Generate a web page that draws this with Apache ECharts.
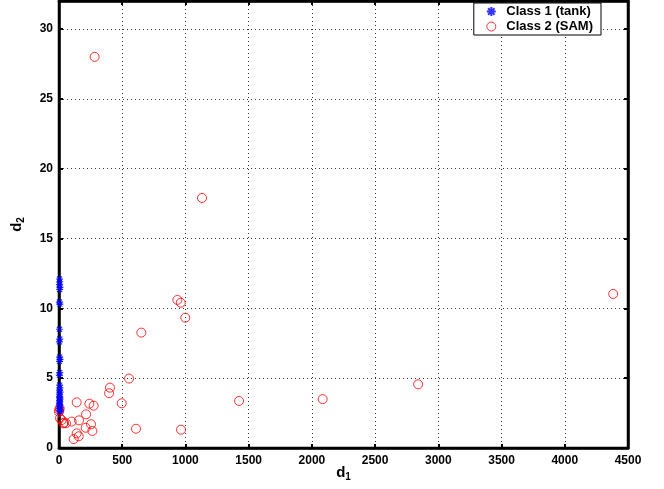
<!DOCTYPE html>
<html>
<head>
<meta charset="utf-8">
<script src="https://cdn.jsdelivr.net/npm/echarts@6/dist/echarts.min.js"></script>
<style>html,body{margin:0;padding:0;background:#fff}#c{width:664px;height:489px}</style>
</head>
<body>
<div id="c"></div>
<script>
const seriesNames = ['Class 1 (tank)', 'Class 2 (SAM)'];
const xTicks = [0, 500, 1000, 1500, 2000, 2500, 3000, 3500, 4000, 4500];
const yTicks = [0, 5, 10, 15, 20, 25, 30];
const tankX = [4, 6, 3, 8, 5, 3, 7, 4, 6, 3, 5, 8, 4, 6, 3, 5, 7, 4, 9, 3, 6, 5, 8, 4, 7, 3, 6, 5, 9, 4, 6, 8];
const tankY = [12.1, 11.9, 11.7, 11.5, 11.35, 10.45, 10.3, 8.5, 7.8, 7.6, 6.5, 6.35, 6.2, 5.4, 5.2, 4.5, 4.3, 4.15, 4.0, 3.85, 3.7, 3.6, 3.5, 3.4, 3.3, 3.2, 3.1, 3.0, 2.9, 2.8, 2.7, 2.6];
const samX = [282, 1131, 4383, 936, 963, 999, 651, 554, 403, 396, 2840, 2085, 1424, 496, 140, 240, 274, 609, 965, 214, 158, 100, 55, 40, 253, 211, 264, 140, 156, 116, 3, 0, 8, 21, 34, 5];
const samY = [28.0, 17.9, 11.03, 10.6, 10.4, 9.33, 8.26, 4.97, 4.32, 3.92, 4.56, 3.5, 3.37, 3.20, 3.27, 3.17, 3.03, 1.38, 1.31, 2.41, 1.98, 1.89, 1.77, 1.81, 1.70, 1.45, 1.22, 1.05, 0.84, 0.64, 2.72, 2.6, 2.13, 2.0, 1.77, 2.85];

const tankData = tankX.map((x, i) => [x, tankY[i]]);
const samData = samX.map((x, i) => [x, samY[i]]);
const FONT = '"Liberation Sans", Arial, sans-serif';
const star = 'path://M0,-5L0,5M-5,0L5,0M-3.6,-3.6L3.6,3.6M-3.6,3.6L3.6,-3.6';
const ring = 'path://M5,0A5,5 0 1 1 -5,0A5,5 0 1 1 5,0Z';

const gridLine = () => ({show: true, showMinLine: false, showMaxLine: false, lineStyle: {color: '#333', type: [1, 3], width: 1}});
const axisLine = () => ({show: true, onZero: false, lineStyle: {color: '#000', width: 2.5}});
const tick = () => ({show: true, inside: true, length: 4, lineStyle: {color: '#000', width: 2}});
const lbl = () => ({color: '#000', fontWeight: 'bold', fontSize: 12, fontFamily: FONT});
const nameRich = () => ({rich: {
  a: {fontSize: 15, fontWeight: 'bold', fontFamily: FONT, color: '#000'},
  b: {fontSize: 10, fontWeight: 'bold', fontFamily: FONT, color: '#000', padding: [8, 0, 0, 0]}
}});

const chart = echarts.init(document.getElementById('c'));
chart.setOption({
  animation: false,
  backgroundColor: '#fff',
  grid: {left: 59, right: 36, top: 1, bottom: 41, containLabel: false, outerBoundsMode: 'none',
         show: true, borderColor: '#000', borderWidth: 2.5, backgroundColor: 'transparent'},
  legend: {
    orient: 'vertical', right: 63, top: 3, z: 10,
    backgroundColor: '#fff', borderColor: '#000', borderWidth: 1,
    padding: [2, 8, 2, 12], itemGap: 2, itemWidth: 12, itemHeight: 9,
    textStyle: {color: '#000', fontWeight: 'bold', fontSize: 13, fontFamily: FONT, padding: [0, 0, 0, 4]},
    data: [
      {name: seriesNames[0]},
      {name: seriesNames[1], itemStyle: {color: 'rgba(255,255,255,0)', borderColor: '#ff0000', borderWidth: 1}}
    ]
  },
  xAxis: [{
    type: 'value', min: xTicks[0], max: xTicks[xTicks.length - 1], interval: 500,
    axisLine: axisLine(), axisTick: tick(), splitLine: gridLine(),
    axisLabel: Object.assign({margin: 7, formatter: v => String(v)}, lbl()),
    name: '{a|d}{b|1}', nameLocation: 'middle', nameGap: 16, nameMoveOverlap: false,
    nameTextStyle: nameRich()
  }, {
    type: 'value', position: 'top', min: 0, max: 4500, interval: 500,
    axisLine: axisLine(), axisTick: tick(), splitLine: {show: false}, axisLabel: {show: false}
  }],
  yAxis: [{
    type: 'value', min: 0, max: 32, interval: 5,
    axisLine: axisLine(), axisTick: tick(), splitLine: gridLine(),
    axisLabel: Object.assign({margin: 6, formatter: v => yTicks.includes(v) ? String(v) : ''}, lbl()),
    name: '{a|d}{b|2}', nameLocation: 'middle', nameGap: 33, nameRotate: 90, nameMoveOverlap: false,
    nameTextStyle: nameRich()
  }, {
    type: 'value', position: 'right', min: 0, max: 32, interval: 5,
    axisLine: axisLine(), axisTick: tick(), splitLine: {show: false}, axisLabel: {show: false}
  }],
  series: [{
    name: seriesNames[0], type: 'scatter', data: tankData, xAxisIndex: 0, yAxisIndex: 0,
    symbol: star, symbolSize: 7, z: 3,
    itemStyle: {color: '#0000ff', borderColor: '#0000ff', borderWidth: 1.2}
  }, {
    name: seriesNames[1], type: 'scatter', data: samData, xAxisIndex: 0, yAxisIndex: 0,
    symbol: ring, symbolSize: 9, z: 2,
    itemStyle: {color: 'rgba(255,255,255,0)', borderColor: '#ff0000', borderWidth: 1}
  }]
});
</script>
</body>
</html>
